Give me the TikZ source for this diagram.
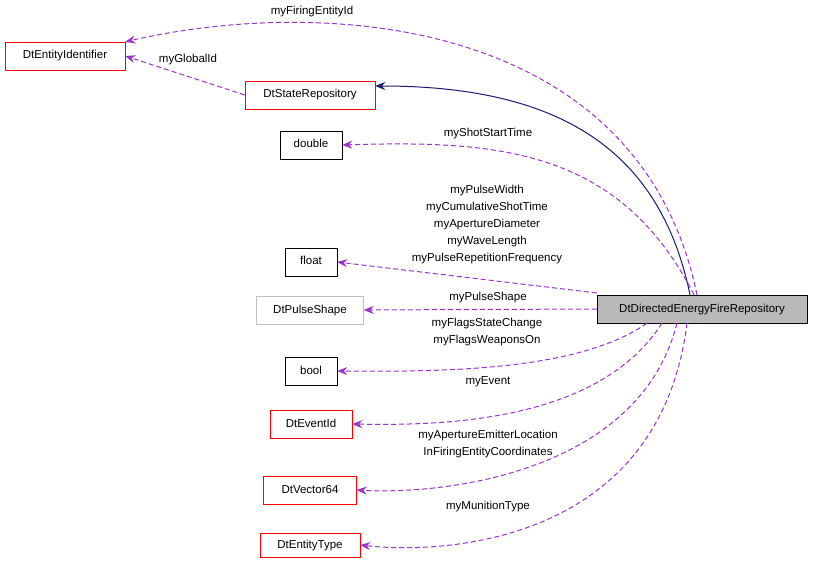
\documentclass[tikz,border=0pt]{standalone}
\usepackage{fontspec}
\setmainfont{Liberation Sans}
\usetikzlibrary{arrows.meta}
\definecolor{edgepurple}{HTML}{9A32CD}
\definecolor{edgenavy}{HTML}{191970}
\tikzset{
  box/.style={draw=black,fill=white,inner sep=0pt,minimum height=28pt,text height=8.5pt,text depth=2.5pt,font=\fontsize{11.5}{13}\selectfont},
  redbox/.style={box,draw=red},
  greybox/.style={box,draw=gray!50},
  member/.style={edgepurple,line width=1pt,dash pattern=on 5pt off 3pt,-{Stealth[length=10pt,width=8pt]}},
  inherit/.style={edgenavy,line width=1pt,-{Stealth[length=10pt,width=8pt]}},
  lbl/.style={font=\fontsize{11.5}{17}\selectfont,align=center,inner sep=0pt}
}
\begin{document}
\begin{tikzpicture}[x=1pt,y=-1pt]
  \useasboundingbox (0,0) rectangle (813,561);

  % classes
  \node[redbox,minimum width=120pt] (ident) at (65,56) {DtEntityIdentifier};
  \node[redbox,minimum width=130pt] (state) at (310,95) {DtStateRepository};
  \node[box,minimum width=62pt] (double) at (311,145) {double};
  \node[box,minimum width=52pt] (float) at (311,262) {float};
  \node[greybox,minimum width=107pt] (pulse) at (310,310) {DtPulseShape};
  \node[box,minimum width=52pt] (bool) at (311,371) {bool};
  \node[redbox,minimum width=82pt] (event) at (311,424) {DtEventId};
  \node[redbox,minimum width=93pt] (vec) at (310,490) {DtVector64};
  \node[redbox,minimum width=100pt,minimum height=24pt] (etype) at (310,545) {DtEntityType};
  \node[box,fill=gray!55,minimum width=210pt] (main) at (702,309) {DtDirectedEnergyFireRepository};

  % inheritance
  \draw[inherit] (main.north) ++(-12,0) .. controls (660,150) and (560,86) .. (state.east |- 0,86);

  % members
  \draw[member] ([xshift=-5pt]main.north) .. controls (640,20) and (330,-5) .. (ident.north east);
  \draw[member] (state.west) -- (ident.east);
  \draw[member] ([xshift=-8pt]main.north) .. controls (620,150) and (500,140) .. (double.east);
  \draw[member] (main.west |- 0,293) -- (float.east);
  \draw[member] (main.west) -- (pulse.east);
  \draw[member] ([xshift=-55pt]main.south) .. controls (580,370) and (450,372) .. (bool.east);
  \draw[member] ([xshift=-40pt]main.south) .. controls (600,420) and (450,426) .. (event.east);
  \draw[member] ([xshift=-25pt]main.south) .. controls (640,470) and (450,495) .. (vec.east);
  \draw[member] ([xshift=-15pt]main.south) .. controls (660,540) and (450,555) .. (etype.east);

  % labels
  \node[lbl] (lfire) at (312,12) {myFiringEntityId};
  \node[lbl] (lglobal) at (188,60) {myGlobalId};
  \node[lbl] (lshot) at (488,134) {myShotStartTime};
  \node[lbl] (lfloat) at (487,225) {myPulseWidth\\myCumulativeShotTime\\myApertureDiameter\\myWaveLength\\myPulseRepetitionFrequency};
  \node[lbl] (lpulse) at (488,298) {myPulseShape};
  \node[lbl] (lbool) at (487,332) {myFlagsStateChange\\myFlagsWeaponsOn};
  \node[lbl] (levent) at (488,382) {myEvent};
  \node[lbl] (lvec) at (488,444) {myApertureEmitterLocation\\InFiringEntityCoordinates};
  \node[lbl] (lmun) at (488,507) {myMunitionType};
\end{tikzpicture}
\end{document}
